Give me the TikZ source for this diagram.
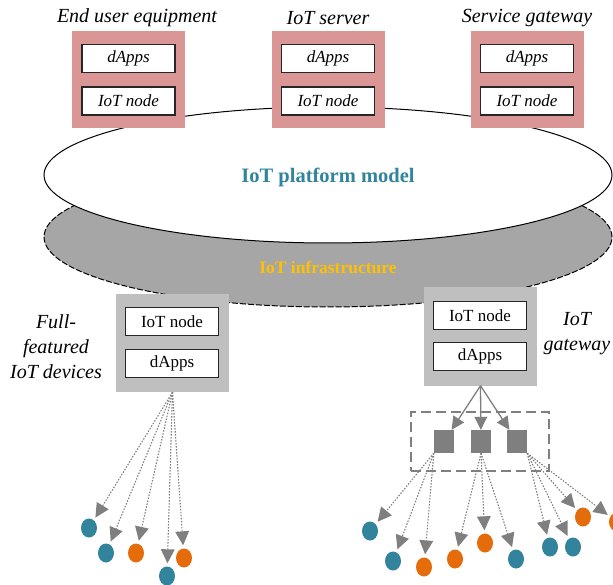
\documentclass[tikz,border=0pt]{standalone}
\usepackage{fontspec}
\setmainfont{Liberation Serif}
\usepackage{xcolor}
\usepackage{tikz}
\usetikzlibrary{shapes.geometric}
\usetikzlibrary{arrows.meta}

\definecolor{boxpink}{HTML}{D99694}
\definecolor{devgray}{HTML}{BFBFBF}
\definecolor{infragray}{HTML}{A6A6A6}
\definecolor{sqgray}{HTML}{7F7F7F}
\definecolor{devteal}{HTML}{31849B}
\definecolor{devorange}{HTML}{E46C0A}
\definecolor{infragold}{HTML}{FFC000}

\tikzset{
    outerbox/.style={fill=boxpink, minimum width=113pt, minimum height=97pt, inner sep=0pt},
    devbox/.style={fill=devgray, minimum width=113pt, minimum height=98pt, inner sep=0pt},
    innerbox/.style={draw=black!85, fill=white, line width=1.1pt, minimum width=93pt,
        minimum height=28pt, inner sep=0pt, font=\fontsize{17}{20}\selectfont},
    itbox/.style={innerbox, font=\fontsize{17}{20}\selectfont\itshape},
    title/.style={font=\fontsize{20}{25}\selectfont\itshape, align=center, inner sep=0pt},
    tealdev/.style={ellipse, fill=devteal, minimum width=16pt, minimum height=19pt, inner sep=0pt},
    orangedev/.style={ellipse, fill=devorange, minimum width=16pt, minimum height=19pt, inner sep=0pt},
    sqbox/.style={fill=sqgray, minimum width=20pt, minimum height=23pt, inner sep=0pt},
    gtip/.tip={Triangle[length=14pt, width=14pt, fill=sqgray, line width=0pt]},
    gtipsmall/.tip={Triangle[length=13pt, width=13pt, fill=sqgray, line width=0pt]},
    dotarrow/.style={draw=sqgray, dash pattern=on 1.5pt off 1.5pt, line width=1.1pt,
        shorten >=3pt, -gtip},
    solidarrow/.style={draw=sqgray, line width=1.3pt, -gtipsmall}
}

\begin{document}
\begin{tikzpicture}[x=1pt, y=-1pt]
        \useasboundingbox (0,0) rectangle (613,585);

        \node[ellipse, draw, fill=infragray, line width=1pt, dash pattern=on 6pt off 2pt,
            minimum width=568pt, minimum height=140pt] (infra) at (328,237) {};
        \node[ellipse, draw, fill=white, line width=1pt,
            minimum width=568pt, minimum height=136pt] (platform) at (328,175) {};
        \node[text=infragold, font=\fontsize{17.5}{20}\selectfont\bfseries] (infralbl) at (328,267) {IoT infrastructure};
        \node[text=devteal, font=\fontsize{20.5}{24}\selectfont\bfseries] (platformlbl) at (328,177) {IoT platform model};

        \node[outerbox] (eue) at (128.5,79.5) {};
        \node[itbox] (eueapps) at (128.5,58.5) {dApps};
        \node[itbox] (euenode) at (128.5,101) {IoT node};
        \node[title] (euelbl) at (137,18) {End user equipment};

        \node[outerbox] (srv) at (328,79.5) {};
        \node[itbox] (srvapps) at (328,58.5) {dApps};
        \node[itbox] (srvnode) at (328,101) {IoT node};
        \node[title] (srvlbl) at (328,18) {IoT server};

        \node[outerbox] (sgw) at (527,79.5) {};
        \node[itbox] (sgwapps) at (527,58.5) {dApps};
        \node[itbox] (sgwnode) at (527,101) {IoT node};
        \node[title] (sgwlbl) at (527,18) {Service gateway};

        \node[devbox] (dev) at (172.5,343) {};
        \node[innerbox] (devnode) at (172,321.5) {IoT node};
        \node[innerbox] (devapps) at (172,363.5) {dApps};
        \node[title] (devlbl) at (56,347) {Full-\\featured\\IoT devices};

        \node[devbox] (gw) at (480.5,336.5) {};
        \node[innerbox] (gwnode) at (480,315.5) {IoT node};
        \node[innerbox] (gwapps) at (480,356.5) {dApps};
        \node[title] (gwlbl) at (577,334) {IoT\\gateway};

        \node[draw=sqgray, line width=1.3pt, dash pattern=on 10pt off 5pt,
            minimum width=138pt, minimum height=59pt] (grp) at (480,441.5) {};
        \node[sqbox] (sq1) at (444,441.5) {};
        \node[sqbox] (sq2) at (481,441.5) {};
        \node[sqbox] (sq3) at (517,441.5) {};

        \draw[solidarrow] (gw.south) -- (sq1);
        \draw[solidarrow] (gw.south) -- (sq2);
        \draw[solidarrow] (gw.south) -- (sq3);

        \node[tealdev] (a1) at (89,528) {};
        \node[tealdev] (a2) at (106,553) {};
        \node[orangedev] (a3) at (136,553) {};
        \node[tealdev] (a4) at (167,576) {};
        \node[orangedev] (a5) at (184,558) {};

        \node[tealdev] (b1) at (370,531) {};
        \node[tealdev] (b2) at (393,561) {};
        \node[orangedev] (b3) at (424,567) {};
        \node[orangedev] (b4) at (455,559) {};
        \node[orangedev] (b5) at (485,543) {};
        \node[tealdev] (b6) at (516,559) {};
        \node[tealdev] (b7) at (550,547) {};
        \node[tealdev] (b8) at (573,547) {};
        \node[orangedev] (b9) at (583,517) {};
        \node[orangedev] (b10) at (617,522) {};

        \draw[dotarrow] (dev.south) -- (a1);
        \draw[dotarrow] (dev.south) -- (a2);
        \draw[dotarrow] (dev.south) -- (a3);
        \draw[dotarrow] (dev.south) -- (a4);
        \draw[dotarrow] (dev.south) -- (a5);

        \draw[dotarrow] (sq1.south west) -- (b1);
        \draw[dotarrow] (sq1.south west) -- (b2);
        \draw[dotarrow] (sq1.south west) -- (b3);
        \draw[dotarrow] (sq2.south) -- (b4);
        \draw[dotarrow] (sq2.south) -- (b5);
        \draw[dotarrow] (sq2.south) -- (b6);
        \draw[dotarrow] (sq3.south east) -- (b7);
        \draw[dotarrow] (sq3.south east) -- (b8);
        \draw[dotarrow] (sq3.south east) -- (b9);
        \draw[dotarrow] (sq3.south east) -- (b10);
    \end{tikzpicture}
\end{document}
